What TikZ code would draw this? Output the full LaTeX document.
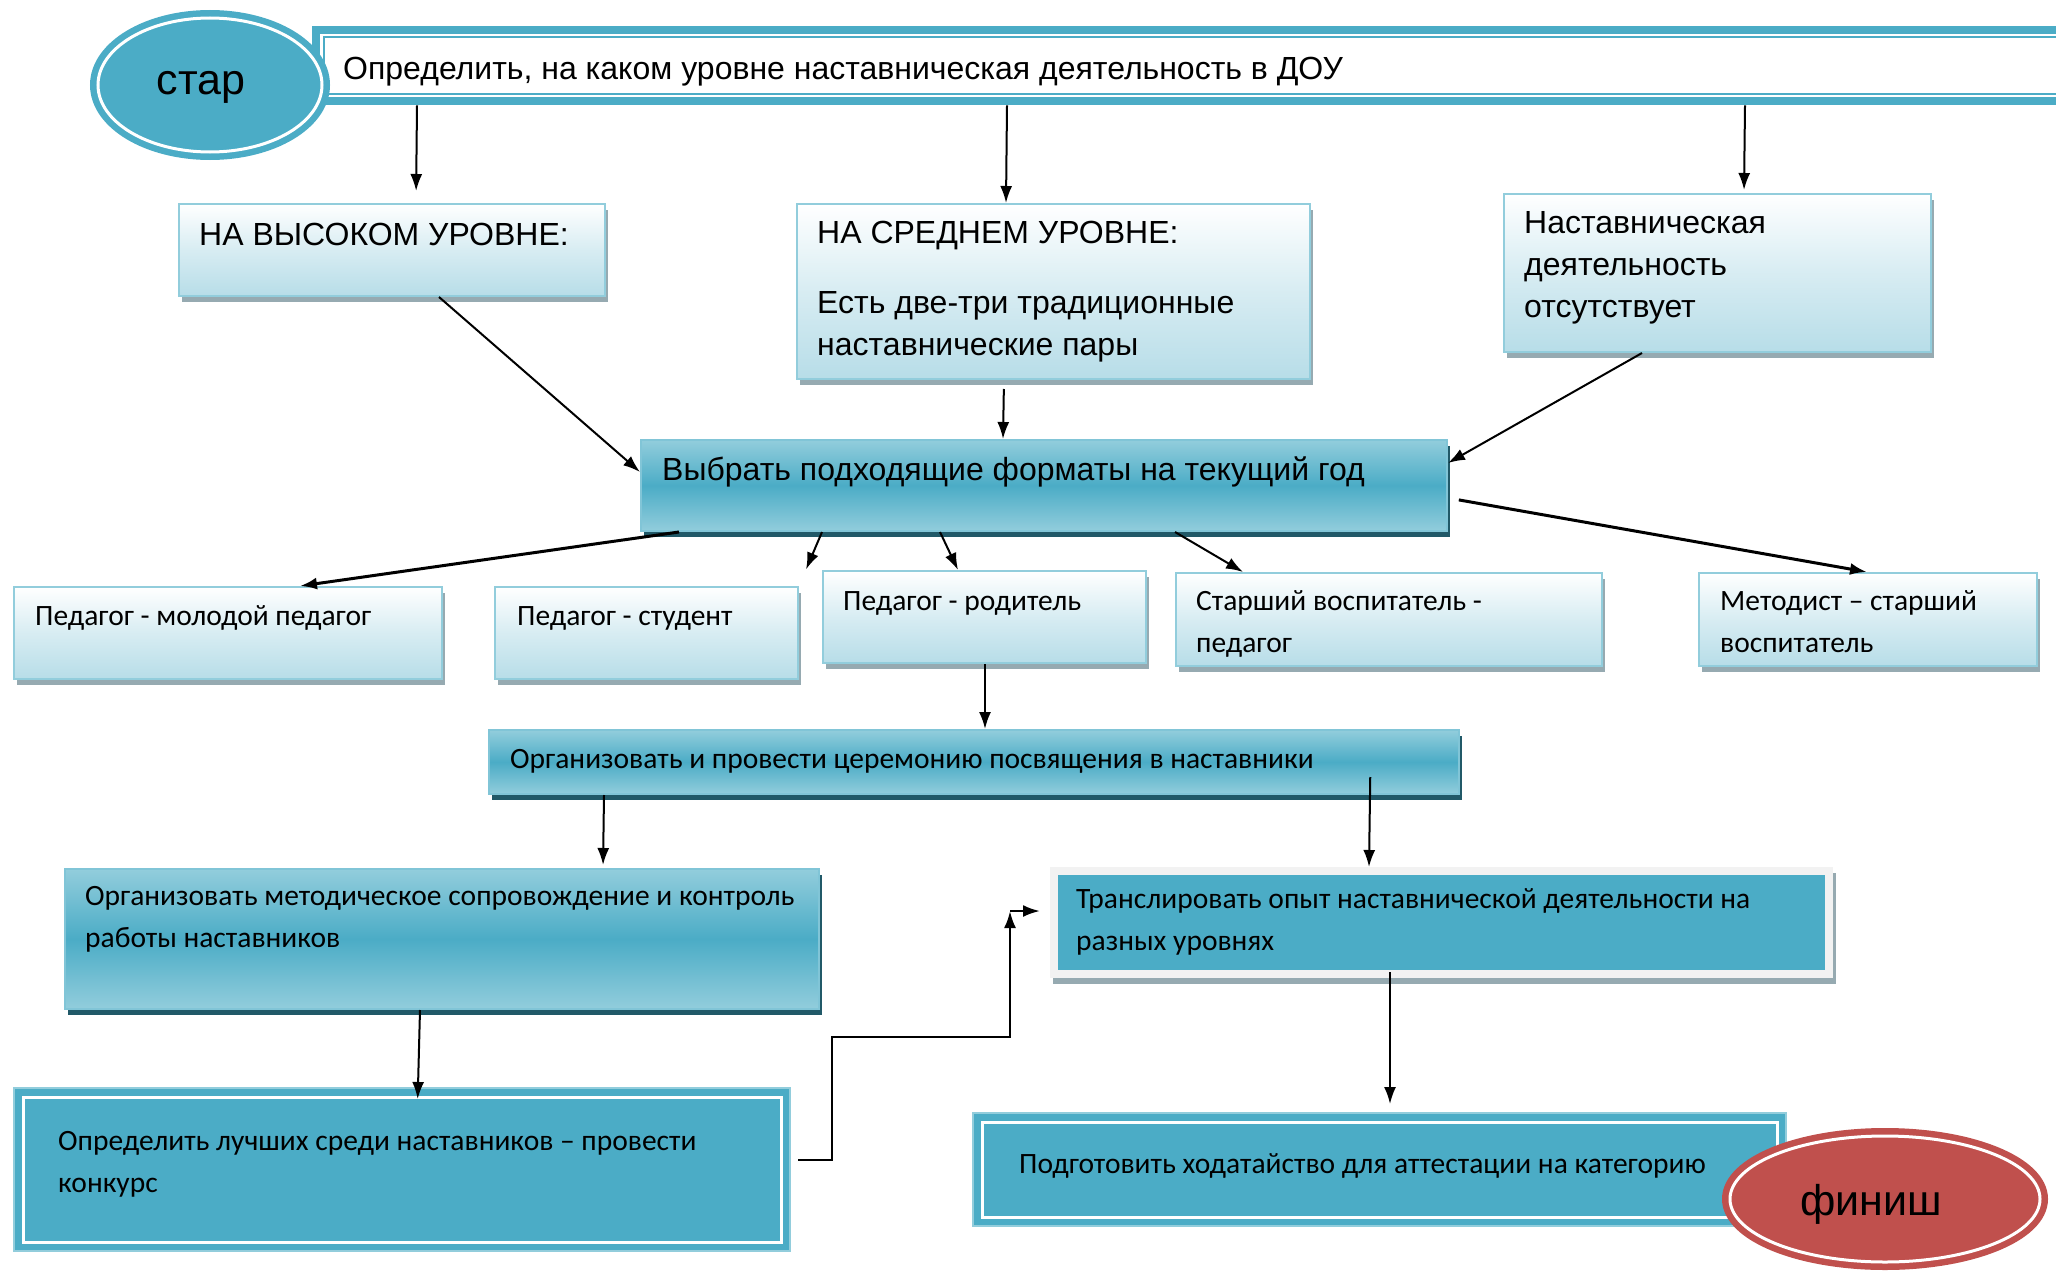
\documentclass[tikz,border=0pt]{standalone}
\usepackage{fontspec}
\setmainfont{Liberation Sans}
\newfontfamily\calib{Carlito}
\usetikzlibrary{shapes.geometric,shadows,arrows.meta}
\definecolor{aqua}{HTML}{4BACC6}
\definecolor{aqualt}{HTML}{92CDDC}
\definecolor{aquabg}{HTML}{B7DDE8}
\definecolor{aquadk}{HTML}{215968}
\definecolor{shgray}{HTML}{96AAB1}
\definecolor{redfin}{HTML}{C0504D}
\definecolor{frgray}{HTML}{F2F2F2}
\tikzstyle{lightbox}=[anchor=north west,inner sep=0pt,draw=aqualt,line width=2pt,top color=white,bottom color=aquabg,middle color=aquabg!55,drop shadow={shadow xshift=3pt,shadow yshift=-6pt,fill=shgray,opacity=1}]
\tikzstyle{tealbox}=[anchor=north west,inner sep=0pt,draw=aqua!70,line width=2pt,top color=aqualt,bottom color=aqualt,middle color=aqua,drop shadow={shadow xshift=3pt,shadow yshift=-6pt,fill=aquadk,opacity=1}]
\tikzstyle{framebox}=[anchor=north west,inner sep=0pt,fill=aqua,draw=aqualt,line width=2pt]
\tikzstyle{grayframe}=[anchor=north west,inner sep=0pt,fill=frgray,drop shadow={shadow xshift=3pt,shadow yshift=-6pt,fill=shgray,opacity=1}]
\tikzstyle{topframe}=[anchor=north west,inner sep=0pt,fill=aqua]
\tikzstyle{startell}=[ellipse,inner sep=0pt,fill=aqua,draw=white,line width=3pt,preaction={draw=aqua,line width=16pt},font=\fontsize{43}{50}\selectfont]
\tikzstyle{finell}=[ellipse,inner sep=0pt,fill=redfin,draw=white,line width=3pt,preaction={draw=redfin,line width=16pt},font=\fontsize{43}{50}\selectfont]
\tikzstyle{txta}=[anchor=base west,align=left,inner sep=0pt,font=\fontsize{32}{42}\selectfont]
\tikzstyle{txtc}=[anchor=base west,align=left,inner sep=0pt,font=\calib\fontsize{29.5}{42}\selectfont]
\tikzstyle{arr}=[-{Latex[length=17pt,width=12pt]},line width=2pt]

\begin{document}
\begin{tikzpicture}[x=1pt,y=-1pt]
    \useasboundingbox (0,0) rectangle (2056,1271);
    % top row
    \node[topframe,minimum width=1760pt,minimum height=79pt] (top) at (312,26) {};
    \fill[white] ([xshift=8pt,yshift=8pt]top.south west) rectangle ([xshift=-8pt,yshift=-8pt]top.north east);
    \draw[aqua,line width=2pt] ([xshift=11.5pt,yshift=11.5pt]top.south west) rectangle ([xshift=-11.5pt,yshift=-11.5pt]top.north east);
    \node[txta] (topT) at (343,80) {Определить, на каком уровне наставническая деятельность в ДОУ};
    \node[startell,minimum width=224pt,minimum height=134pt] (st) at (210,85) {\raisebox{-10pt}[0pt][0pt]{стар}\kern18pt};

    % levels (text of multi-line nodes is placed at its last line)
    \node[lightbox,minimum width=426pt,minimum height=92pt] (hb) at (178,203) {};
    \node[lightbox,minimum width=513pt,minimum height=175pt] (hc) at (796,203) {};
    \node[lightbox,minimum width=427pt,minimum height=158pt] (hn) at (1503,193) {};
    \node[txta] (hbT) at (199,245) {НА ВЫСОКОМ УРОВНЕ:};
    \node[txta] (hcT) at (817,355) {НА СРЕДНЕМ УРОВНЕ:\\[28pt]Есть две-три традиционные\\наставнические пары};
    \node[txta] (hnT) at (1524,317) {Наставническая\\деятельность\\отсутствует};

    % formats
    \node[tealbox,minimum width=806pt,minimum height=91pt] (sel) at (640,439) {};
    \node[txta] (selT) at (662,480) {Выбрать подходящие форматы на текущий год};
    \node[lightbox,minimum width=428pt,minimum height=92pt] (p1) at (13,586) {};
    \node[lightbox,minimum width=303pt,minimum height=92pt] (p2) at (494,586) {};
    \node[lightbox,minimum width=323pt,minimum height=92pt] (p3) at (822,570) {};
    \node[lightbox,minimum width=426pt,minimum height=93pt] (p4) at (1175,572) {};
    \node[lightbox,minimum width=338pt,minimum height=93pt] (p5) at (1698,572) {};
    \node[txtc] (p1T) at (35,625) {Педагог - молодой педагог};
    \node[txtc] (p2T) at (517,625) {Педагог - студент};
    \node[txtc] (p3T) at (843,610) {Педагог - родитель};
    \node[txtc] (p4T) at (1196,652) {Старший воспитатель -\\педагог};
    \node[txtc] (p5T) at (1720,652) {Методист – старший\\воспитатель};

    % lower part
    \node[tealbox,minimum width=970pt,minimum height=64pt] (org) at (488,729) {};
    \node[txtc] (orgT) at (510,768) {Организовать и провести церемонию посвящения в наставники};
    \node[tealbox,minimum width=754pt,minimum height=140pt] (mc) at (64,868) {};
    \node[txtc] (mcT) at (85,947) {Организовать методическое сопровождение и контроль\\работы наставников};
    \node[framebox,minimum width=776pt,minimum height=163pt] (best) at (13,1087) {};
    \node[grayframe,minimum width=783pt,minimum height=111pt] (tr) at (1050,867) {};
    \fill[aqua] ([xshift=8pt,yshift=8pt]tr.south west) rectangle ([xshift=-8pt,yshift=-8pt]tr.north east);
    \node[framebox,minimum width=813pt,minimum height=113pt] (prep) at (972,1112) {};
    \foreach \n in {best,prep}
    \draw[white,line width=3pt] ([xshift=10pt,yshift=10pt]\n.south west) rectangle ([xshift=-10pt,yshift=-10pt]\n.north east);
    \node[txtc] (bestT) at (58,1192) {Определить лучших среди наставников – провести\\конкурс};
    \node[txtc] (trT) at (1076,950) {Транслировать опыт наставнической деятельности на\\разных уровнях};
    \node[txtc] (prepT) at (1019,1173) {Подготовить ходатайство для аттестации на категорию};
    \node[finell,minimum width=310pt,minimum height=126pt] (fin) at (1885,1199) {\raisebox{-16pt}[0pt][0pt]{финиш}\kern28pt};

    % connectors
    \draw[arr,shorten >=12pt] (top.south -| 417,0) -- (hb.north -| 416,0);
    \draw[arr] (top.south -| 1007,0) -- (hc.north -| 1006,0);
    \draw[arr,shorten >=3pt] (top.south -| 1745,0) -- (hn.north -| 1744,0);
    \draw[arr] (hb.south -| 439,0) -- (sel.west |- 0,472);
    \draw[arr,shorten <=9pt] (hc.south -| 1004,0) -- (sel.north -| 1003,0);
    \draw[arr] (hn.south -| 1642,0) -- (sel.east |- 0,463);
    \draw[arr,line width=3pt] (sel.south -| 679,0) -- (p1.north -| 300,0);
    \draw[arr,shorten >=18pt] (sel.south -| 822,0) -- (p2.north east);
    \draw[arr] (sel.south -| 940,0) -- (p3.north -| 958,0);
    \draw[arr] (sel.south -| 1175,0) -- (p4.north -| 1243,0);
    \draw[arr,line width=3pt,shorten <=11pt] (sel.east |- 0,498) -- (p5.north -| 1867,0);
    \draw[arr] (p3.south -| 985,0) -- (org.north -| 985,0);
    \draw[arr,shorten >=3pt] (org.south -| 604,0) -- (mc.north -| 603,0);
    \draw[arr,shorten <=-18pt] (org.south -| 1370,0) -- (tr.north -| 1369,0);
    \draw[arr,shorten >=-12pt] (mc.south -| 420,0) -- (best.north -| 418,0);
    \draw[arr,shorten <=-6pt,shorten >=8pt] (tr.south -| 1390,0) -- (prep.north -| 1390,0);
    \draw[arr,line width=2.5pt] (best.east |- 0,1160) ++(7,0) -- ++(34,0) -- ++(0,-123) -- ++(178,0) -- ++(0,-126) coordinate (turn);
    \draw[arr,line width=2.5pt,shorten >=10pt] (turn) -- (tr.west |- turn);
\end{tikzpicture}
\end{document}
